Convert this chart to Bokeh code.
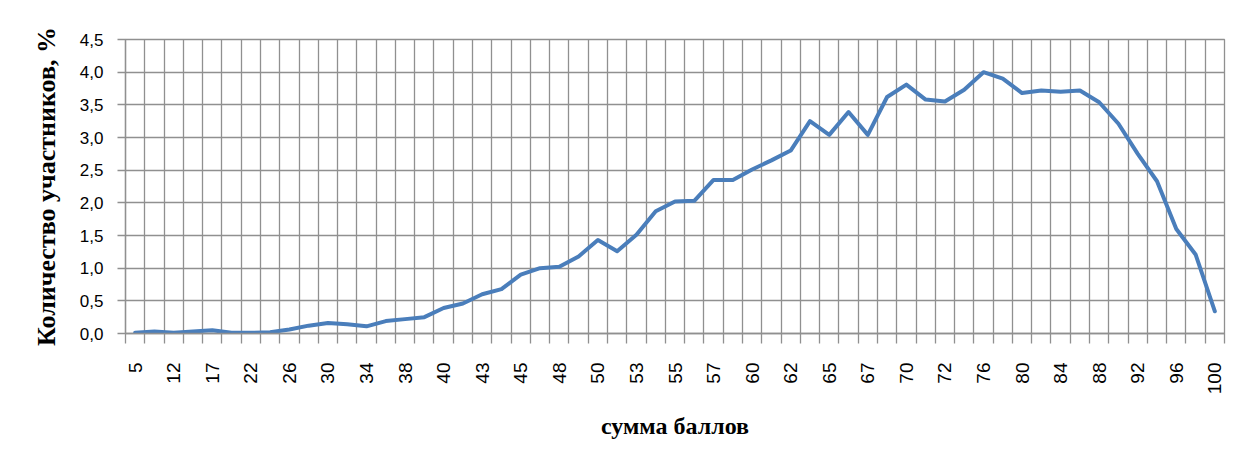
import math
from bokeh.plotting import figure
from bokeh.models import FixedTicker, CustomJSTickFormatter, Range1d
from bokeh.embed import file_html
from bokeh.resources import INLINE

# Categories (score sums); only every other one is labelled on the axis
scores = [5, 8, 12, 15, 17, 20, 22, 24, 26, 28, 30, 32, 34, 36, 38, 39, 40, 42, 43, 44,
          45, 47, 48, 49, 50, 52, 53, 54, 55, 56, 57, 59, 60, 61, 62, 64, 65, 66, 67, 69,
          70, 71, 72, 74, 76, 78, 80, 82, 84, 86, 88, 90, 92, 94, 96, 98, 100]

# Share of participants, %
share = [0.01, 0.03, 0.01, 0.03, 0.05, 0.01, 0.01, 0.02, 0.06, 0.12,
         0.16, 0.14, 0.11, 0.19, 0.22, 0.25, 0.39, 0.46, 0.60, 0.68,
         0.90, 1.00, 1.02, 1.18, 1.43, 1.26, 1.51, 1.87, 2.02, 2.03,
         2.35, 2.35, 2.51, 2.65, 2.80, 3.25, 3.04, 3.39, 3.04, 3.62,
         3.81, 3.58, 3.55, 3.73, 4.00, 3.90, 3.68, 3.72, 3.70, 3.72,
         3.54, 3.21, 2.75, 2.33, 1.60, 1.21, 0.34]

y_ticks = [0.0, 0.5, 1.0, 1.5, 2.0, 2.5, 3.0, 3.5, 4.0, 4.5]

n = len(scores)
xs = list(range(1, n + 1))
label_pos = xs[::2]
boundaries = [i + 0.5 for i in range(0, n + 1)]

GRID = "#909090"

p = figure(width=1232, height=455, output_backend="svg", toolbar_location=None,
           x_range=Range1d(0.5, n + 0.5), y_range=Range1d(0, 4.5),
           min_border_left=125, min_border_right=8, min_border_top=39, min_border_bottom=122)

p.background_fill_color = "white"
p.border_fill_color = "white"
p.outline_line_color = GRID
p.outline_line_width = 1.3

p.line(xs, share, line_color="#4a7ebb", line_width=4, line_join="round", line_cap="round")

# x axis
p.xaxis.ticker = FixedTicker(ticks=label_pos, minor_ticks=boundaries)
p.xaxis.formatter = CustomJSTickFormatter(args=dict(labels=[str(s) for s in scores]),
                                          code="const i = Math.round(tick) - 1; return (i >= 0 && i < labels.length) ? labels[i] : '';")
p.xaxis.major_label_orientation = math.pi / 2
p.xaxis.major_tick_out = 0
p.xaxis.major_tick_in = 0
p.xaxis.minor_tick_out = 10
p.xaxis.minor_tick_in = 0
p.xaxis.minor_tick_line_color = GRID
p.xaxis.minor_tick_line_width = 1.3
p.xaxis.axis_line_color = GRID
p.xaxis.axis_line_width = 1.3
p.xaxis.major_label_standoff = 19
p.xaxis.major_label_text_font = "Liberation Sans"
p.xaxis.major_label_text_font_size = "19px"
p.xaxis.major_label_text_color = "#000000"
p.xaxis.axis_label = "сумма баллов"
p.xaxis.axis_label_text_font = "Liberation Serif"
p.xaxis.axis_label_text_font_style = "bold"
p.xaxis.axis_label_text_font_size = "24px"
p.xaxis.axis_label_text_color = "#000000"
p.xaxis.axis_label_standoff = 16

# y axis
p.yaxis.ticker = FixedTicker(ticks=y_ticks)
p.yaxis.formatter = CustomJSTickFormatter(code="return tick.toFixed(1).replace('.', ',');")
p.yaxis.major_tick_out = 8
p.yaxis.major_tick_in = 0
p.yaxis.minor_tick_line_color = None
p.yaxis.major_tick_line_color = GRID
p.yaxis.major_tick_line_width = 1.3
p.yaxis.axis_line_color = GRID
p.yaxis.axis_line_width = 1.3
p.yaxis.major_label_standoff = 14
p.yaxis.major_label_text_font = "Liberation Sans"
p.yaxis.major_label_text_font_size = "17px"
p.yaxis.major_label_text_color = "#000000"
p.yaxis.axis_label = "Количество участников, %"
p.yaxis.axis_label_text_font = "Liberation Serif"
p.yaxis.axis_label_text_font_style = "bold"
p.yaxis.axis_label_text_font_size = "26px"
p.yaxis.axis_label_text_color = "#000000"
p.yaxis.axis_label_standoff = 16

# grids
p.xgrid.ticker = FixedTicker(ticks=boundaries)
p.xgrid.grid_line_color = GRID
p.xgrid.grid_line_width = 1.3
p.ygrid.grid_line_color = GRID
p.ygrid.grid_line_width = 1.3

open("out.html", "w").write(file_html(p, INLINE))
